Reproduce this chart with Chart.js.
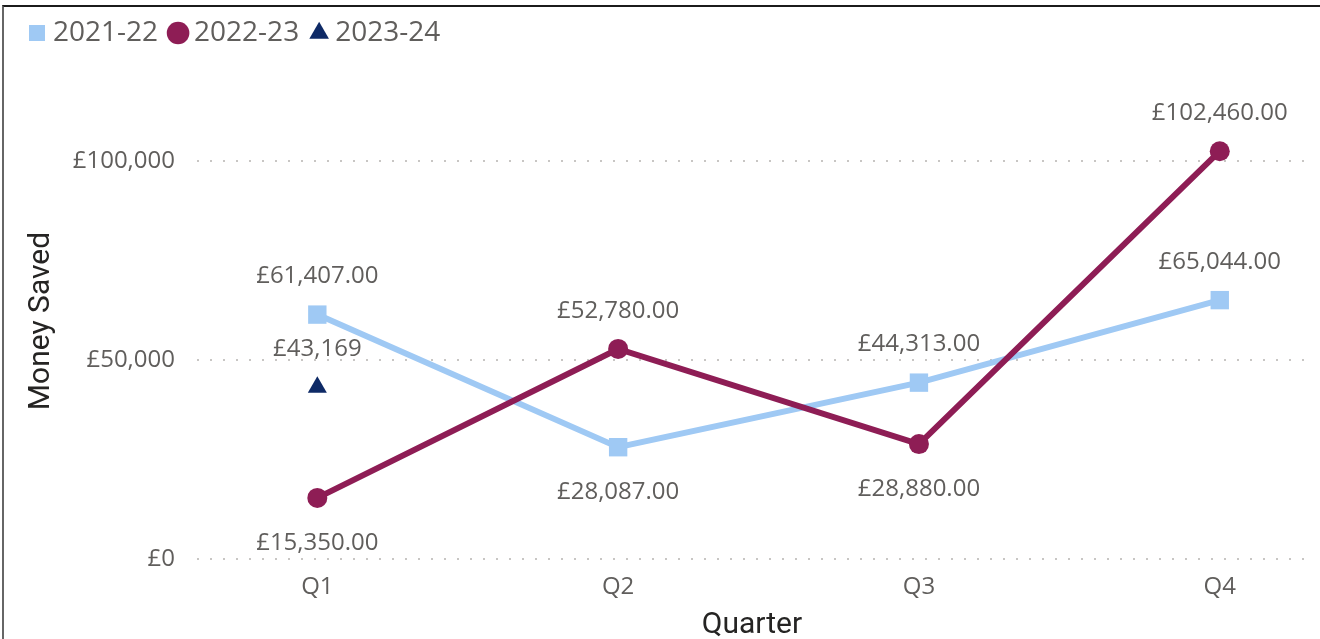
<!DOCTYPE html>
<html>
<head>
<meta charset="utf-8">
<script src="https://cdn.jsdelivr.net/npm/chart.js@4"></script>
<style>
  html, body { margin: 0; padding: 0; background: #fff; }
  #wrap { position: relative; width: 1320px; height: 639px; }
  #frame { position: absolute; left: 2px; top: 5px; right: 0; bottom: 0;
           border-top: 2px solid #1b1b1b; border-left: 2px solid #666; pointer-events: none; }
</style>
</head>
<body>
<div id="wrap">
  <canvas id="chart"></canvas>
  <div id="frame"></div>
</div>
<script>
const quarters = ["Q1", "Q2", "Q3", "Q4"];
const seriesNames = ["2021-22", "2022-23", "2023-24"];
const saved2122 = [61407, 28087, 44313, 65044];
const saved2223 = [15350, 52780, 28880, 102460];
const saved2324 = [43169, null, null, null];
const yTicks = [0, 50000, 100000];

// where each value label goes, and how many decimals it shows
const labelPos2122 = ["above", "below", "above", "above"];
const labelPos2223 = ["below", "above", "below", "above"];
const labelPos2324 = ["above", "above", "above", "above"];
const labelDecimals = [2, 2, 0];

const grey = "#605E5C";
const dark = "#252423";
Chart.defaults.font.family = '"Open Sans", sans-serif';
Chart.defaults.color = grey;

function money(v, d) {
  return "£" + v.toLocaleString("en-GB", { minimumFractionDigits: d, maximumFractionDigits: d });
}

function points(values) {
  return values.map((v, i) => ({ x: i, y: v }));
}

// fixed legend band so the plot area lines up
const legendBand = {
  id: "legendBand",
  beforeUpdate(chart) {
    const lg = chart.legend;
    if (lg && !lg._patched) {
      const fit = lg.fit;
      lg.fit = function () { fit.call(this); this.height = 82; };
      lg._patched = true;
    }
  }
};

const valueLabels = {
  id: "valueLabels",
  afterDatasetsDraw(chart) {
    const ctx = chart.ctx;
    ctx.save();
    ctx.font = '24px "Open Sans"';
    ctx.fillStyle = grey;
    ctx.textAlign = "center";
    ctx.textBaseline = "middle";
    chart.data.datasets.forEach((ds, i) => {
      chart.getDatasetMeta(i).data.forEach((pt, j) => {
        const v = ds.data[j].y;
        if (v == null) return;
        const dy = ds.labelPos[j] === "above" ? -38 : 45;
        ctx.fillText(money(v, ds.decimals), pt.x, pt.y + dy);
      });
    });
    ctx.restore();
  }
};

new Chart(document.getElementById("chart"), {
  type: "line",
  data: {
    datasets: [
      {
        label: seriesNames[0], data: points(saved2122), labelPos: labelPos2122, decimals: labelDecimals[0],
        borderColor: "#9FC9F4", backgroundColor: "#9FC9F4", borderWidth: 6,
        pointStyle: "rect", pointRadius: 13, pointBorderWidth: 0, order: 2, clip: false
      },
      {
        label: seriesNames[1], data: points(saved2223), labelPos: labelPos2223, decimals: labelDecimals[1],
        borderColor: "#8E1D55", backgroundColor: "#8E1D55", borderWidth: 6,
        pointStyle: "circle", pointRadius: 10, pointBorderWidth: 0, order: 1, clip: false
      },
      {
        label: seriesNames[2], data: points(saved2324), labelPos: labelPos2324, decimals: labelDecimals[2],
        borderColor: "#0E2A66", backgroundColor: "#0E2A66", borderWidth: 0,
        pointStyle: "triangle", pointRadius: 11, pointBorderWidth: 0, order: 0, clip: false
      }
    ]
  },
  options: {
    responsive: true,
    maintainAspectRatio: false,
    animation: false,
    layout: { padding: { left: 17, top: 1, right: 10, bottom: 0 } },
    plugins: {
      tooltip: { enabled: false },
      legend: {
        position: "top",
        align: "start",
        labels: {
          usePointStyle: true,
          boxWidth: 4,
          boxHeight: 16,
          padding: 18,
          color: grey,
          font: { size: 28 },
          sort: (a, b) => a.datasetIndex - b.datasetIndex
        }
      }
    },
    scales: {
      x: {
        type: "linear",
        min: -0.4,
        max: 3.29,
        afterBuildTicks: s => { s.ticks = quarters.map((q, i) => ({ value: i })); },
        afterFit: s => { s.height = 80; },
        grid: { display: false, drawTicks: false },
        border: { display: false },
        ticks: { padding: 14, font: { size: 24 }, color: grey, callback: v => quarters[v] },
        title: { display: true, text: "Quarter", color: dark, font: { family: "Roboto", size: 30 }, padding: { top: 0, bottom: -4 } }
      },
      y: {
        min: 0,
        max: 119600,
        afterBuildTicks: s => { s.ticks = yTicks.map(v => ({ value: v })); },
        afterFit: s => { s.width = 180; },
        grid: { color: "#C8C6C4", lineWidth: 2, drawTicks: false },
        border: { display: false, dash: [2, 11] },
        ticks: { padding: 22, font: { size: 24 }, color: grey, callback: v => money(v, 0) },
        title: { display: true, text: "Money Saved", color: dark, font: { family: "Roboto", size: 30 }, padding: { top: 6, bottom: 0 } }
      }
    }
  },
  plugins: [legendBand, valueLabels]
});
</script>
</body>
</html>
